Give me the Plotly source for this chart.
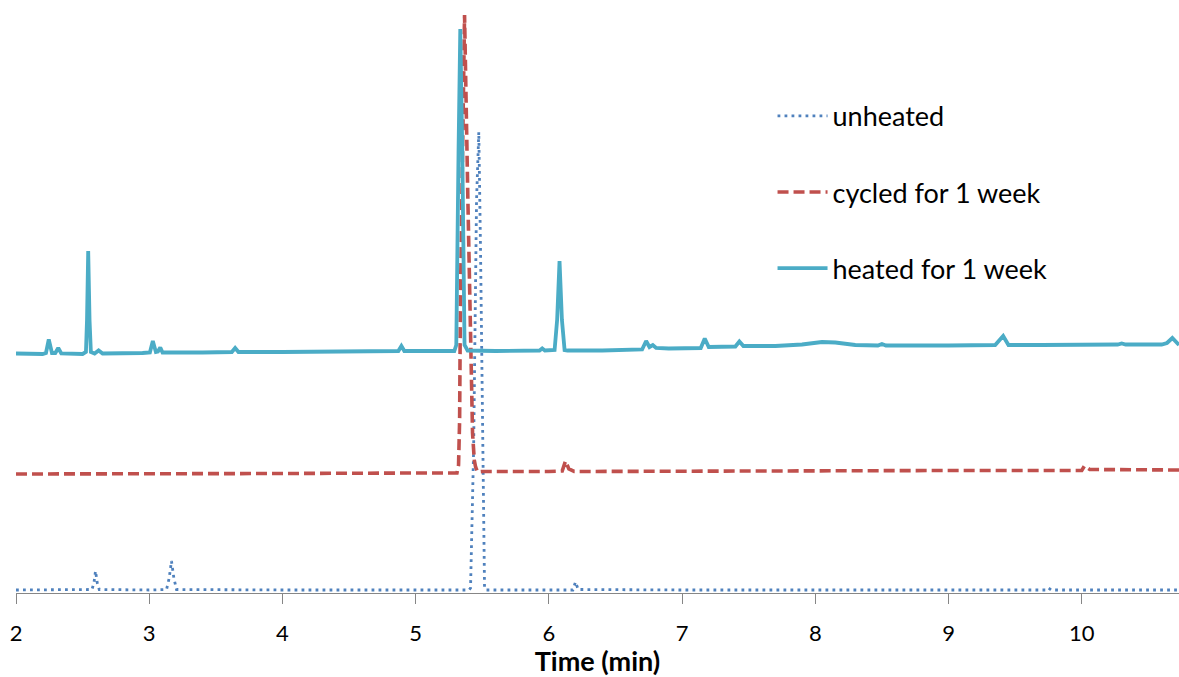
import plotly.graph_objects as go

# ---- data (retention time in min, detector response in arbitrary units) ----
heated_t = [2.00, 2.10, 2.20, 2.225, 2.246, 2.27, 2.295, 2.317, 2.34, 2.50, 2.525, 2.533, 2.542, 2.552,
            2.562, 2.59, 2.62, 2.65, 2.80, 2.95, 3.005, 3.027, 3.05, 3.065, 3.083, 3.10, 3.40, 3.62,
            3.645, 3.67, 4.00, 4.50, 4.87, 4.893, 4.915, 5.29, 5.305, 5.322, 5.335, 5.350, 5.367, 5.39,
            5.60, 5.93, 5.95, 5.97, 6.043, 6.062, 6.080, 6.098, 6.118, 6.14, 6.40, 6.70, 6.73, 6.755,
            6.78, 6.805, 6.90, 7.14, 7.17, 7.20, 7.40, 7.43, 7.46, 7.70, 7.90, 8.05, 8.15, 8.30, 8.47,
            8.50, 8.53, 9.00, 9.35, 9.41, 9.45, 9.70, 10.00, 10.27, 10.30, 10.33, 10.60, 10.64, 10.68, 10.73]
heated_v = [47.9, 47.8, 47.8, 48.0, 50.7, 48.0, 48.0, 49.0, 47.9, 47.8, 48.2, 54.6, 68.4, 54.6,
            48.2, 47.9, 48.5, 47.9, 47.9, 48.0, 48.1, 50.4, 48.2, 48.3, 49.1, 48.1, 48.1, 48.2,
            49.0, 48.2, 48.2, 48.3, 48.4, 49.4, 48.4, 48.4, 49.6, 88.6, 112.8, 88.6, 49.6, 48.5,
            48.4, 48.5, 48.9, 48.5, 48.6, 54.6, 66.4, 54.6, 48.6, 48.5, 48.5, 48.7, 50.4, 49.2,
            49.6, 49.0, 48.9, 49.0, 50.9, 49.2, 49.3, 50.3, 49.4, 49.4, 49.7, 50.2, 50.1, 49.6, 49.5,
            49.8, 49.5, 49.5, 49.6, 51.4, 49.6, 49.6, 49.6, 49.7, 49.9, 49.7, 49.7, 50.0, 51.0, 49.6]

cycled_t = [2.00, 3.00, 4.00, 5.00, 5.30, 5.31, 5.322, 5.330, 5.336, 5.350, 5.367, 5.392, 5.405,
            5.418, 5.427, 5.440, 5.450, 5.465, 5.50, 6.00, 6.10, 6.125, 6.15, 6.19, 7.00, 8.00,
            9.00, 10.00, 10.02, 10.06, 10.73]
cycled_v = [23.8, 23.8, 23.9, 24.0, 24.0, 24.0, 25.6, 34.6, 58.6, 88.6, 115.6, 78.6, 58.6,
            38.6, 32.0, 26.6, 25.2, 24.2, 24.3, 24.3, 24.4, 26.4, 24.8, 24.3, 24.4, 24.5,
            24.5, 24.5, 25.4, 24.7, 24.6]

unheated_t = [2.00, 2.50, 2.57, 2.585, 2.597, 2.61, 2.625, 3.00, 3.13, 3.15, 3.167, 3.185, 3.205,
              4.00, 5.00, 5.40, 5.412, 5.435, 5.457, 5.474, 5.487, 5.502, 5.517, 5.53, 6.18, 6.20,
              6.22, 7.00, 9.73, 9.75, 9.77, 10.73]
unheated_v = [0.6, 0.6, 0.7, 2.0, 4.4, 2.0, 0.7, 0.6, 0.7, 3.0, 6.4, 3.0, 0.7,
              0.6, 0.6, 0.6, 1.0, 28.6, 78.6, 92.2, 68.6, 28.6, 1.0, 0.6, 0.6, 2.2,
              0.7, 0.6, 0.6, 1.0, 0.6, 0.6]

x_ticks = [2, 3, 4, 5, 6, 7, 8, 9, 10]
x_range = [2, 10.73]
y_range = [0, 118.6]

FONT = "Lato"

fig = go.Figure()
fig.add_trace(go.Scatter(x=unheated_t, y=unheated_v, mode="lines", name="unheated",
                         legendgroup="a",
                         line=dict(color="#4f81bd", width=2.8, dash="2.8px,4.2px")))
fig.add_trace(go.Scatter(x=cycled_t, y=cycled_v, mode="lines", name="cycled for 1 week",
                         legendgroup="b",
                         line=dict(color="#c0504d", width=3.6, dash="11px,5px")))
fig.add_trace(go.Scatter(x=heated_t, y=heated_v, mode="lines", name="heated for 1 week",
                         legendgroup="c",
                         line=dict(color="#4bacc6", width=3.8)))

fig.update_layout(
    width=1179, height=677,
    margin=dict(l=16, r=0, t=0, b=84, autoexpand=False),
    paper_bgcolor="white", plot_bgcolor="white",
    font=dict(family=FONT, color="#000000"),
    showlegend=True,
    legend=dict(x=0.6505, y=0.845, xanchor="left", yanchor="top",
                font=dict(size=27, family=FONT, color="#000000"),
                tracegroupgap=38, itemwidth=50, bgcolor="rgba(0,0,0,0)"),
    xaxis=dict(range=x_range, tickvals=x_ticks, ticktext=[str(v) for v in x_ticks],
               automargin=False,
               showline=True, linecolor="#868686", linewidth=1,
               ticks="outside", ticklen=10, tickcolor="#868686", tickwidth=1,
               ticklabelstandoff=11,
               tickfont=dict(size=22, family=FONT, color="#000000"),
               showgrid=False, zeroline=False,
               title=dict(text="<b>Time (min)</b>", font=dict(size=27, family=FONT, color="#000000"),
                          standoff=12)),
    yaxis=dict(range=y_range, visible=False, showgrid=False, zeroline=False, automargin=False),
)

fig.write_html("out.html",
               config={"displayModeBar": False},
               post_script="document.body.style.margin='0';document.body.style.overflow='hidden';")
